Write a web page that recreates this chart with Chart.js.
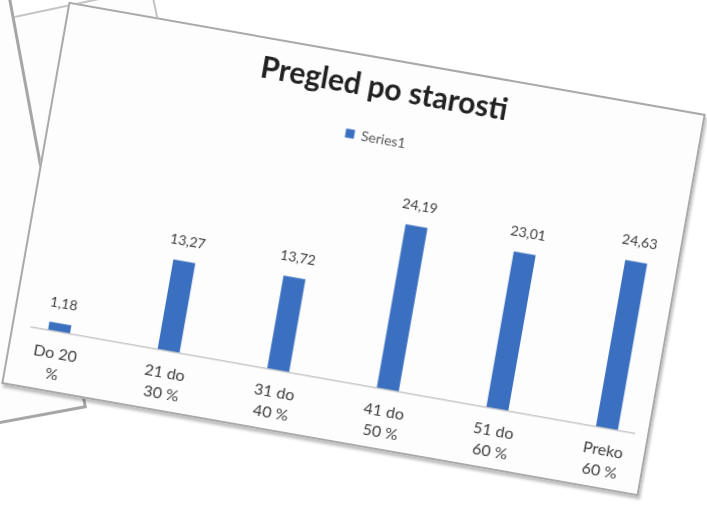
<!DOCTYPE html>
<html>
<head>
<meta charset="utf-8">
<script src="https://cdn.jsdelivr.net/npm/chart.js@4.4.0/dist/chart.umd.min.js"></script>
<style>
html, body { margin: 0; padding: 0; background: #fff; width: 707px; height: 507px; overflow: hidden; }
.sheet { position: absolute; background: #fdfdfd; box-sizing: border-box; }
/* papers lying behind the chart */
#back1 { left: -313px; top: -92px; width: 400px; height: 500px; border: 3px solid #a6a6a6; transform-origin: 100% 100%; transform: rotate(-10.5deg); z-index: 2; }
#back2 { left: 5px; top: 18px; width: 150px; height: 200px; border: 2px solid #c4c4c4; transform-origin: 0 0; transform: rotate(-12deg); z-index: 1; }
#card { left: 30px; top: 55px; width: 647px; height: 388px; border: 2px solid #a9a9a9; box-shadow: 2px 3px 3px rgba(0,0,0,0.25); transform: rotate(10deg); z-index: 3; }
</style>
</head>
<body>
<div class="sheet" id="back2"></div>
<div class="sheet" id="back1"></div>
<div class="sheet" id="card"><canvas id="chart" width="643" height="384"></canvas></div>
<script>
// podaci
const chartTitle = "Pregled po starosti";
const seriesName = "Series1";
const categories = [["Do 20", "%"], ["21 do", "30 %"], ["31 do", "40 %"], ["41 do", "50 %"], ["51 do", "60 %"], ["Preko", "60 %"]];
const values = [1.18, 13.27, 13.72, 24.19, 23.01, 24.63];

// oznake vrijednosti iznad stupaca
const valueLabels = {
    id: "valueLabels",
    afterDatasetsDraw(chart) {
        const ctx = chart.ctx;
        const meta = chart.getDatasetMeta(0);
        ctx.save();
        ctx.font = "14px Lato";
        ctx.fillStyle = "#404040";
        ctx.textAlign = "center";
        ctx.textBaseline = "middle";
        meta.data.forEach((bar, i) => {
            ctx.fillText(values[i].toFixed(2).replace(".", ","), bar.x, bar.y - 20);
        });
        ctx.restore();
    }
};

new Chart(document.getElementById("chart"), {
    type: "bar",
    data: {
        datasets: [{
            label: seriesName,
            data: values.map((v, i) => ({ x: i, y: v })),
            backgroundColor: "#3b70c0",
            barPercentage: 0.2,
            categoryPercentage: 1
        }]
    },
    options: {
        responsive: false,
        animation: false,
        layout: { padding: { left: 18, right: 13, top: 0, bottom: 2 } },
        plugins: {
            title: {
                display: true,
                text: chartTitle,
                color: "#222",
                font: { family: "Lato", size: 30, weight: "bold" },
                padding: { top: 11, bottom: 15 }
            },
            legend: {
                display: true,
                labels: { boxWidth: 9, boxHeight: 9, color: "#595959", font: { family: "Lato", size: 14 } }
            },
            tooltip: { enabled: false }
        },
        scales: {
            x: {
                type: "linear",
                offset: false,
                min: -0.25,
                max: 5.25,
                afterBuildTicks: (scale) => { scale.ticks = categories.map((_, i) => ({ value: i })); },
                grid: { display: false },
                border: { color: "#c8c8c8", width: 1.5 },
                ticks: {
                    autoSkip: false,
                    maxRotation: 0,
                    padding: 4,
                    color: "#404040",
                    font: { family: "Lato", size: 16, lineHeight: 1.3 },
                    callback: (v) => categories[v]
                }
            },
            y: {
                display: false,
                min: 0,
                max: 33.3
            }
        }
    },
    plugins: [valueLabels]
});
</script>
</body>
</html>
